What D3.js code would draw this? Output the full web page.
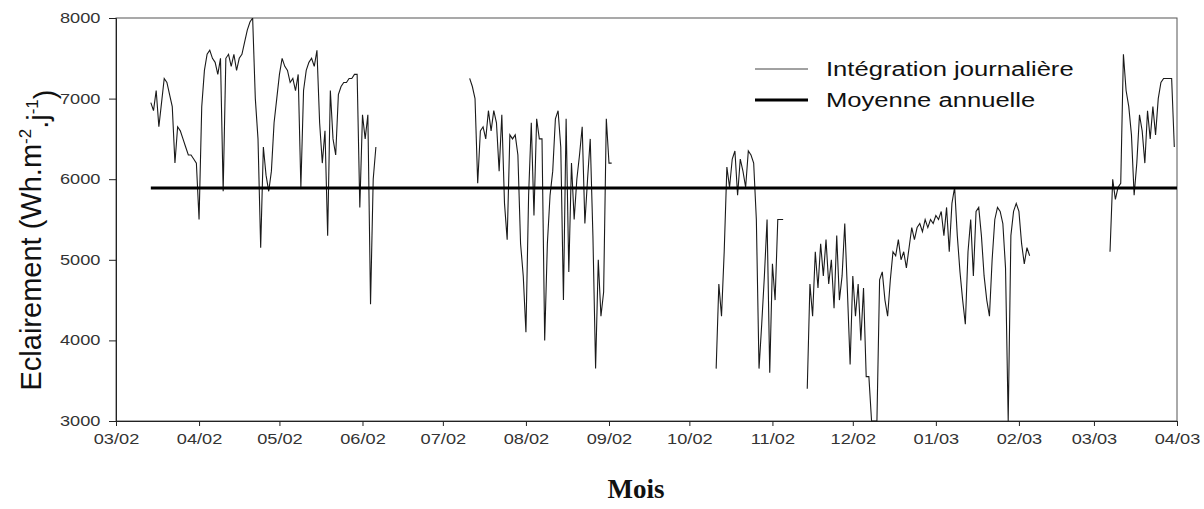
<!DOCTYPE html>
<html>
<head>
<meta charset="utf-8">
<script src="https://cdn.jsdelivr.net/npm/d3@7"></script>
<style>
  body { margin: 0; background: #fff; }
  svg { display: block; }
</style>
</head>
<body>
<div id="chart"></div>
<script>
var margin = {top: 18, right: 27, bottom: 88, left: 116},
    width = 1204 - margin.left - margin.right,
    height = 509 - margin.top - margin.bottom;

// daily values, one array per continuous stretch of measurements
var seg1Start = "2002-03-14";
var seg1 = [6950,6850,7100,6650,6950,7250,7200,7050,6900,6200,
            6650,6600,6500,6400,6300,6300,6250,6200,5500,6900,
            7350,7550,7600,7500,7450,7300,7500,5850,7500,7550,
            7400,7550,7350,7500,7550,7700,7850,7950,8000,7000,
            6500,5150,6400,6050,5850,6100,6700,7000,7300,7500,
            7400,7350,7200,7250,7100,7300,5900,7100,7350,7450,
            7500,7400,7600,6700,6200,6600,5300,7100,6500,6300,
            7050,7150,7200,7200,7250,7250,7300,7300,5650,6800,
            6500,6800,4450,6000,6400];

var seg2Start = "2002-07-11";
var seg2 = [7250,7150,7000,5950,6600,6650,6500,6850,6600,6850,
            6700,6100,6800,5700,5250,6550,6500,6550,6300,5200,
            4800,4100,5800,6700,5550,6750,6500,6500,4000,5200,
            5800,6100,6750,6850,6400,4500,6750,4850,6200,5500,
            6000,6300,6650,5450,6000,6500,5300,3650,5000,4300,
            4600,6750,6200,6200];

var seg3Start = "2002-10-11";
var seg3 = [3650,4700,4300,5100,6150,5900,6250,6350,5800,6250,
            6100,5900,6350,6300,6200,5500,3650,4200,4800,5500,
            3600,4950,4500,5500,5500,5500];

var seg4Start = "2002-11-14";
var seg4 = [3400,4700,4300,5100,4650,5200,4800,5250,4700,5000,
            4400,5300,4500,4800,5450,4600,3700,4800,4300,4700,
            4000,4650,3550,3550,3000,3000,3000,4750,4850,4500,
            4300,4750,5100,5050,5250,5000,5100,4900,5150,5400,
            5250,5400,5450,5350,5500,5400,5500,5450,5550,5500,
            5600,5300,5650,5100,5700,5900,5300,4850,4500,4200,
            5100,5500,4800,5600,5650,5300,4800,4500,4300,5000,
            5500,5650,5600,5450,4900,3000,5300,5600,5700,5600,
            5200,4950,5150,5050];

var seg5Start = "2003-03-07";
var seg5 = [5100,6000,5750,5900,5950,7550,7100,6900,6550,5800,
            6200,6800,6600,6200,6850,6500,6900,6550,7000,7200,
            7250,7250,7250,7250,6400];

var meanValue = 5890;
var meanStart = "2002-03-14", meanEnd = "2003-04-01";

var xTickLabels = ["03/02","04/02","05/02","06/02","07/02","08/02","09/02",
                   "10/02","11/02","12/02","01/03","02/03","03/03","04/03"];
var yTicks = [3000,4000,5000,6000,7000,8000];

var parseDay = d3.timeParse("%Y-%m-%d");
var parseMonth = d3.timeParse("%m/%y");

var segments = [[seg1Start, seg1], [seg2Start, seg2], [seg3Start, seg3],
                [seg4Start, seg4], [seg5Start, seg5]].map(function(s) {
  var start = parseDay(s[0]);
  return s[1].map(function(v, i) {
    return {date: d3.timeDay.offset(start, i), value: v};
  });
});

var svg = d3.select("#chart")
  .append("svg")
    .attr("width", width + margin.left + margin.right)
    .attr("height", height + margin.top + margin.bottom)
  .append("g")
    .attr("transform", "translate(" + margin.left + "," + margin.top + ")");

var tickDates = xTickLabels.map(function(l) { return parseMonth(l); });

var x = d3.scaleTime()
  .domain([tickDates[0], tickDates[tickDates.length - 1]])
  .range([0, width]);

var y = d3.scaleLinear()
  .domain([3000, 8000])
  .range([height, 0]);

svg.append("defs").append("clipPath")
    .attr("id", "plotclip")
  .append("rect")
    .attr("width", width)
    .attr("height", height + 1);

// frame
svg.append("rect")
  .attr("width", width)
  .attr("height", height)
  .attr("fill", "none")
  .attr("stroke", "#555")
  .attr("stroke-width", 1);

// axes
var xAxis = svg.append("g")
  .attr("transform", "translate(0," + height + ")")
  .call(d3.axisBottom(x).tickValues(tickDates).tickSize(5).tickPadding(8)
        .tickFormat(d3.timeFormat("%m/%y")));

var yAxis = svg.append("g")
  .call(d3.axisLeft(y).tickValues(yTicks).tickSize(7).tickPadding(5)
        .tickFormat(d3.format("d")));

[xAxis, yAxis].forEach(function(a) {
  a.select(".domain").attr("stroke", "#222");
  a.selectAll(".tick line").attr("stroke", "#222");
  a.selectAll(".tick text")
    .attr("fill", "#333")
    .style("font-family", "Arial, 'Liberation Sans', sans-serif")
    .style("font-size", "14px")
    .attr("transform", "scale(1.3,1)");
});

// daily series
var line = d3.line()
  .x(function(d) { return x(d.date); })
  .y(function(d) { return y(d.value); });

svg.append("g")
    .attr("clip-path", "url(#plotclip)")
  .selectAll("path.daily")
  .data(segments)
  .enter()
  .append("path")
    .attr("class", "daily")
    .attr("fill", "none")
    .attr("stroke", "#1a1a1a")
    .attr("stroke-width", 1.1)
    .attr("d", line);

// annual mean
svg.append("line")
  .attr("x1", x(parseDay(meanStart)))
  .attr("x2", x(parseDay(meanEnd)))
  .attr("y1", y(meanValue))
  .attr("y2", y(meanValue))
  .attr("stroke", "#000")
  .attr("stroke-width", 3);

// legend
var legend = svg.append("g")
  .attr("transform", "translate(" + (755 - margin.left) + "," + (69 - margin.top) + ")");

legend.append("line")
  .attr("x1", 0).attr("x2", 53).attr("y1", 0).attr("y2", 0)
  .attr("stroke", "#444").attr("stroke-width", 1);
legend.append("line")
  .attr("x1", 0).attr("x2", 53).attr("y1", 31).attr("y2", 31)
  .attr("stroke", "#000").attr("stroke-width", 3);

legend.selectAll("text")
  .data(["Intégration journalière", "Moyenne annuelle"])
  .enter()
  .append("text")
    .attr("transform", function(d, i) { return "translate(71," + (i * 31 + 7) + ") scale(1.22,1)"; })
    .style("font-family", "Arial, 'Liberation Sans', sans-serif")
    .style("font-size", "21px")
    .attr("fill", "#111")
    .text(function(d) { return d; });

// y axis title
var ytitle = svg.append("text")
  .attr("transform", "translate(" + (41 - margin.left) + "," + (240 - margin.top) + ") rotate(-90)")
  .style("text-anchor", "middle")
  .style("font-family", "Arial, 'Liberation Sans', sans-serif")
  .style("font-size", "29px")
  .attr("fill", "#111");
ytitle.append("tspan").text("Eclairement (Wh.m");
ytitle.append("tspan").attr("dy", "-0.6em").style("font-size", "17px").text("-2");
ytitle.append("tspan").attr("dy", "0.6em").text(".j");
ytitle.append("tspan").attr("dy", "-0.6em").style("font-size", "17px").text("-1");
ytitle.append("tspan").attr("dy", "0.6em").text(")");

// x axis title
svg.append("text")
  .attr("x", 636 - margin.left)
  .attr("y", 498 - margin.top)
  .style("text-anchor", "middle")
  .style("font-family", "'Liberation Serif', 'DejaVu Serif', serif")
  .style("font-size", "27px")
  .style("font-weight", "bold")
  .attr("fill", "#111")
  .text("Mois");
</script>
</body>
</html>
